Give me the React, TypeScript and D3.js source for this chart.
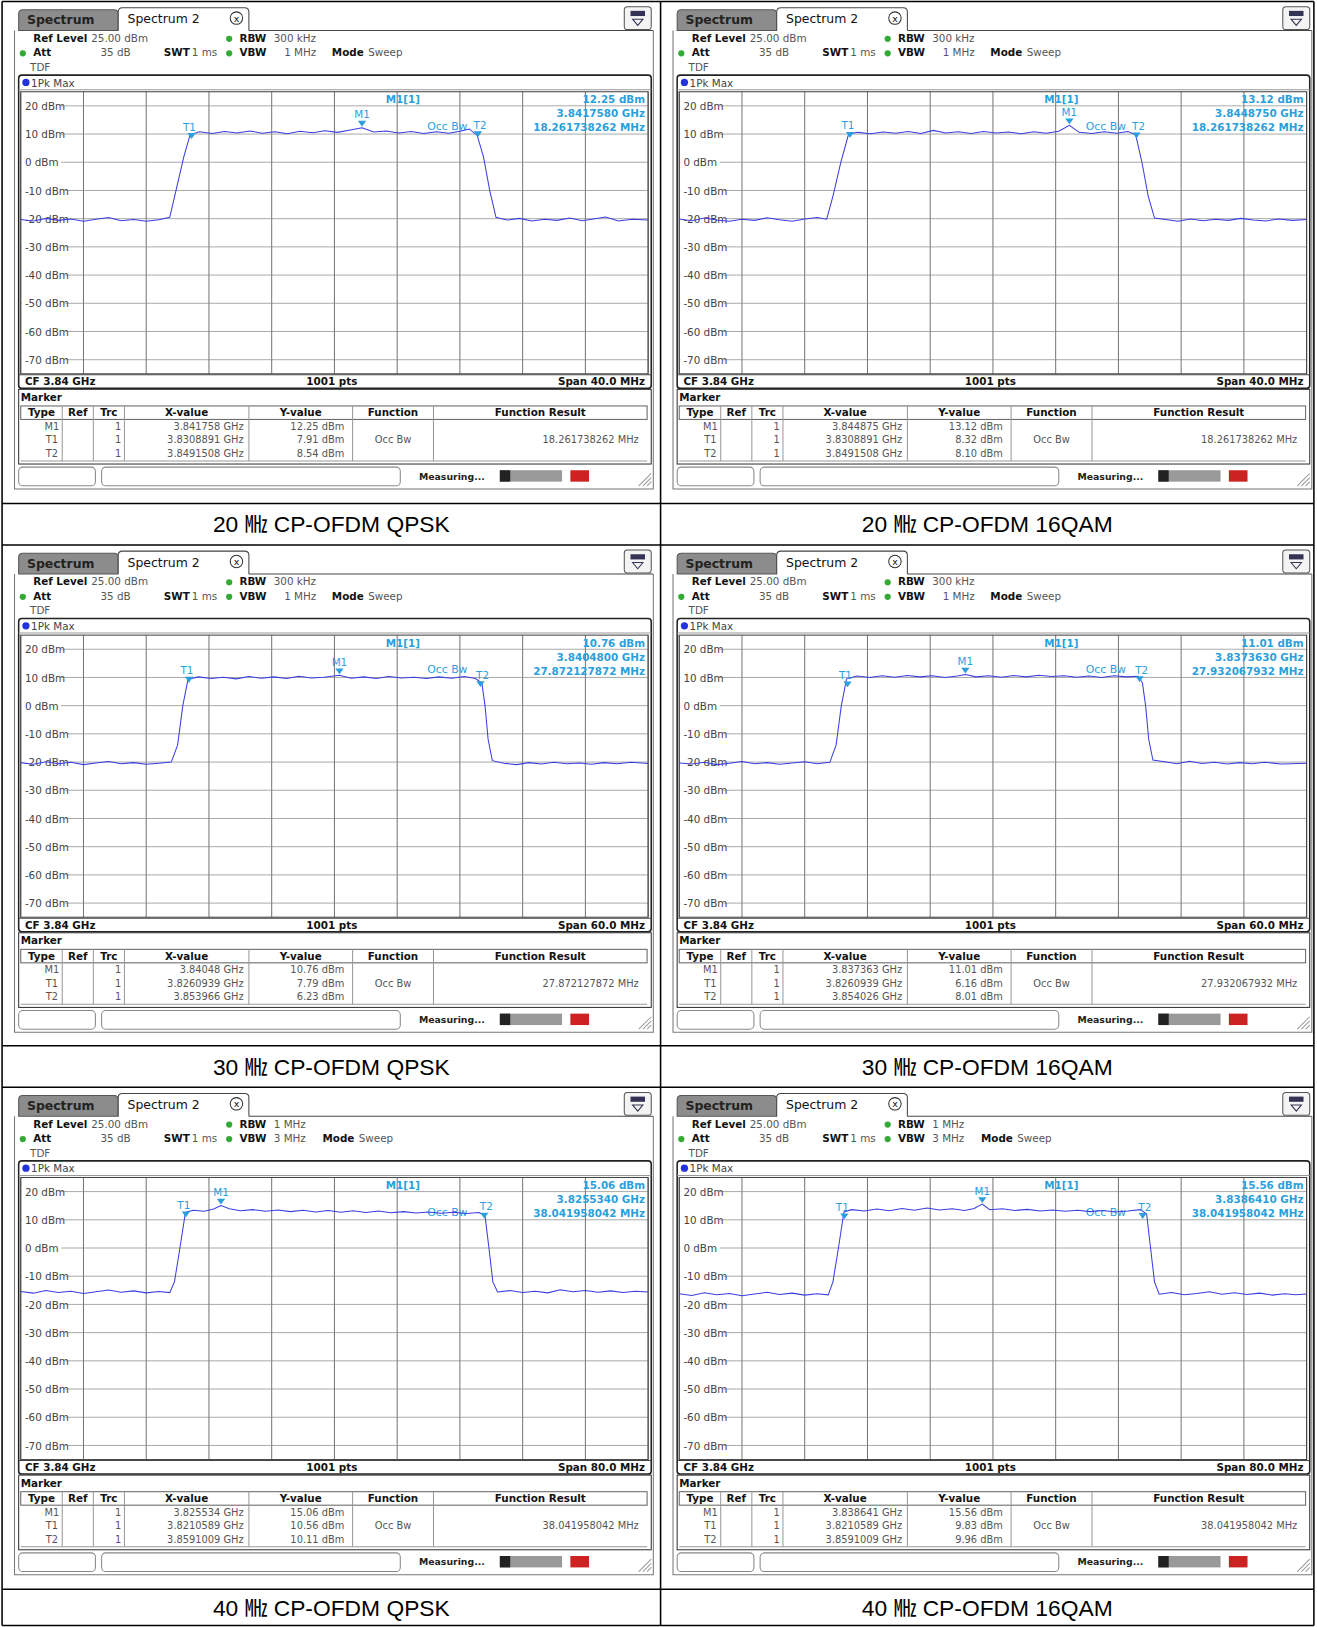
import * as d3 from "d3";

// ---- data ----
const captions = [
  "20 ㎒ CP-OFDM QPSK",
  "20 ㎒ CP-OFDM 16QAM",
  "30 ㎒ CP-OFDM QPSK",
  "30 ㎒ CP-OFDM 16QAM",
  "40 ㎒ CP-OFDM QPSK",
  "40 ㎒ CP-OFDM 16QAM",
];
const spans = [40, 40, 60, 60, 80, 80];
const rbws = ["300 kHz", "300 kHz", "300 kHz", "300 kHz", "1 MHz", "1 MHz"];
const vbws = ["1 MHz", "1 MHz", "1 MHz", "1 MHz", "3 MHz", "3 MHz"];
const yTicks = [20, 10, 0, -10, -20, -30, -40, -50, -60, -70];

// markers: [offset MHz from CF, dBm]
const m1Pos: [number, number][] = [[1.758, 12.25], [4.875, 13.12], [0.48, 10.76], [-2.637, 11.01], [-14.466, 15.06], [-1.359, 15.56]];
const t1Pos: [number, number][] = [[-9.111, 7.91], [-9.111, 8.32], [-13.906, 7.79], [-13.906, 6.16], [-18.941, 10.56], [-18.941, 9.83]];
const t2Pos: [number, number][] = [[9.151, 8.54], [9.151, 8.1], [13.966, 6.23], [14.026, 8.01], [19.101, 10.11], [19.101, 9.96]];
const m1Info = [
  ["12.25 dBm", "3.8417580 GHz", "18.261738262 MHz"],
  ["13.12 dBm", "3.8448750 GHz", "18.261738262 MHz"],
  ["10.76 dBm", "3.8404800 GHz", "27.872127872 MHz"],
  ["11.01 dBm", "3.8373630 GHz", "27.932067932 MHz"],
  ["15.06 dBm", "3.8255340 GHz", "38.041958042 MHz"],
  ["15.56 dBm", "3.8386410 GHz", "38.041958042 MHz"],
];
const tableX = [
  ["3.841758 GHz", "3.8308891 GHz", "3.8491508 GHz"],
  ["3.844875 GHz", "3.8308891 GHz", "3.8491508 GHz"],
  ["3.84048 GHz", "3.8260939 GHz", "3.853966 GHz"],
  ["3.837363 GHz", "3.8260939 GHz", "3.854026 GHz"],
  ["3.825534 GHz", "3.8210589 GHz", "3.8591009 GHz"],
  ["3.838641 GHz", "3.8210589 GHz", "3.8591009 GHz"],
];
const tableY = [
  ["12.25 dBm", "7.91 dBm", "8.54 dBm"],
  ["13.12 dBm", "8.32 dBm", "8.10 dBm"],
  ["10.76 dBm", "7.79 dBm", "6.23 dBm"],
  ["11.01 dBm", "6.16 dBm", "8.01 dBm"],
  ["15.06 dBm", "10.56 dBm", "10.11 dBm"],
  ["15.56 dBm", "9.83 dBm", "9.96 dBm"],
];
const occBw = ["18.261738262 MHz", "18.261738262 MHz", "27.872127872 MHz", "27.932067932 MHz", "38.041958042 MHz", "38.041958042 MHz"];

const trace1: [number, number][] = [[-20,-20.3],[-19.2,-20.8],[-18.4,-19.9],[-17.6,-20.6],[-16.8,-20.1],[-16,-20.9],[-15.2,-20.2],[-14.4,-19.6],[-13.6,-20.7],[-12.8,-20.3],[-12,-20.9],[-11.2,-20.4],[-10.5,-19.5],[-10.1,-10],[-9.6,2],[-9.2,9.8],[-8.6,10.8],[-7.8,10.2],[-7,10.9],[-6.2,10.4],[-5.4,11.1],[-4.6,10.3],[-3.8,10.8],[-3,10.1],[-2.2,11],[-1.4,10.5],[-0.6,11.2],[0.2,10.6],[1,11.4],[1.76,12.25],[2.5,10.7],[3.3,11.1],[4.1,10.4],[4.9,10.9],[5.7,10.2],[6.5,10.8],[7.3,10.3],[8,11],[8.6,11.8],[9.1,9.5],[9.5,2],[9.9,-10],[10.3,-19.5],[11,-20.5],[11.8,-19.9],[12.6,-20.8],[13.4,-20.2],[14.2,-20.6],[15,-19.8],[15.8,-20.7],[16.6,-20],[17.3,-19.4],[18.1,-20.8],[19,-20.2],[20,-20.5]];
const trace2: [number, number][] = [[-20,-20.1],[-19.2,-20.7],[-18.4,-19.8],[-17.6,-20.5],[-16.8,-20.9],[-16,-20.2],[-15.2,-20.6],[-14.4,-19.7],[-13.6,-20.4],[-12.8,-20.9],[-12,-20.1],[-11.2,-19.6],[-10.6,-20.2],[-10.2,-12],[-9.7,0],[-9.2,10],[-8.6,10.6],[-7.8,10.1],[-7,10.7],[-6.2,10.3],[-5.4,10.9],[-4.6,10.2],[-3.8,11.3],[-3,10.4],[-2.2,10.8],[-1.4,10.2],[-0.6,10.9],[0.2,10.4],[1,10.7],[1.8,10.1],[2.6,10.8],[3.4,10.3],[4.2,11],[4.875,13.12],[5.5,10.6],[6.3,10.2],[7.1,10.8],[7.9,10.3],[8.6,10.9],[9.1,9.7],[9.5,0],[9.9,-12],[10.3,-19.8],[11,-20.3],[11.8,-20.9],[12.6,-20.1],[13.4,-20.7],[14.2,-20.2],[15,-20.6],[15.8,-19.9],[16.6,-20.5],[17.4,-20.8],[18.2,-20.1],[19.1,-20.6],[20,-20.3]];
const trace3: [number, number][] = [[-30,-20.2],[-28.8,-20.8],[-27.6,-19.9],[-26.4,-20.6],[-25.2,-20.1],[-24,-20.9],[-22.8,-20.3],[-21.6,-19.8],[-20.4,-20.6],[-19.2,-20.2],[-18,-20.8],[-16.8,-20.4],[-15.6,-20],[-15,-14],[-14.5,0],[-14,9.4],[-13,10.2],[-11.8,9.6],[-10.6,10.1],[-9.4,9.5],[-8.2,10.3],[-7,9.7],[-5.8,10.2],[-4.6,9.6],[-3.4,10.4],[-2.2,9.8],[-1,10.1],[0.48,10.76],[1.6,9.7],[2.8,10.2],[4,9.6],[5.2,10.3],[6.4,9.8],[7.6,10.1],[8.8,9.6],[10,10.2],[11.2,9.7],[12.4,10.3],[13.5,9.6],[14.1,8],[14.4,0],[14.7,-12],[15.1,-19.5],[16.2,-20.4],[17.4,-20.9],[18.6,-20.2],[19.8,-20.7],[21,-20.1],[22.2,-20.6],[23.4,-20.3],[24.6,-20.8],[25.8,-20.2],[27,-20.6],[28.4,-20.1],[30,-20.5]];
const trace4: [number, number][] = [[-30,-20.3],[-28.8,-20.7],[-27.6,-20.1],[-26.4,-20.9],[-25.2,-20.4],[-24,-19.8],[-22.8,-20.6],[-21.6,-20.2],[-20.4,-20.8],[-19.2,-20.3],[-18,-19.9],[-16.8,-20.6],[-15.6,-20.1],[-15,-14],[-14.5,0],[-14,9.5],[-13,10.5],[-11.8,10],[-10.6,10.6],[-9.4,10.1],[-8.2,10.7],[-7,10.2],[-5.8,10.6],[-4.6,10],[-3.4,10.5],[-2.637,11.01],[-1.6,10.2],[-0.4,10.6],[0.8,10.1],[2,10.7],[3.2,10.2],[4.4,10.8],[5.6,10.3],[6.8,10.6],[8,10.1],[9.2,10.5],[10.4,10],[11.6,10.6],[12.8,10.2],[13.9,10.4],[14.3,8],[14.6,0],[14.9,-12],[15.3,-19.3],[16.4,-19.9],[17.6,-20.6],[18.8,-19.7],[20,-20.5],[21.2,-20.1],[22.4,-20.7],[23.6,-20.2],[24.8,-20.6],[26,-20.1],[27.6,-20.7],[30,-20.4]];
const trace5: [number, number][] = [[-40,-15.4],[-38.4,-16],[-36.8,-15.1],[-35.2,-15.8],[-33.6,-15.3],[-32,-16.1],[-30.4,-15.5],[-28.8,-14.9],[-27.2,-15.7],[-25.6,-15.2],[-24,-15.9],[-22.4,-15.4],[-21,-15.8],[-20.4,-12],[-19.7,0],[-19,12.6],[-18,13.4],[-16.6,13],[-15.4,13.8],[-14.47,15.06],[-13.4,13.9],[-12,13.2],[-10.4,13.6],[-8.8,13],[-7.2,13.5],[-5.6,12.9],[-4,13.4],[-2.4,12.8],[-0.8,13.3],[0.8,12.7],[2.4,13.2],[4,12.6],[5.6,13.1],[7.2,12.5],[8.8,12.9],[10.4,12.4],[12,12.8],[13.6,12.3],[15.2,12.7],[16.8,12.2],[18.4,12.6],[19.2,11.5],[19.7,0],[20.2,-12],[20.8,-15.6],[22.4,-15.1],[24,-15.8],[25.6,-15.3],[27.2,-15.9],[28.8,-14.8],[30.4,-15.5],[32,-15.1],[33.6,-15.7],[35.2,-15.2],[36.8,-15.8],[38.4,-15.3],[40,-15.6]];
const trace6: [number, number][] = [[-40,-16.2],[-38.4,-16.8],[-36.8,-15.9],[-35.2,-16.6],[-33.6,-16.1],[-32,-16.9],[-30.4,-16.3],[-28.8,-15.7],[-27.2,-16.5],[-25.6,-16],[-24,-16.7],[-22.4,-16.2],[-21,-16.6],[-20.4,-12],[-19.7,0],[-19,12.8],[-18,13.6],[-16.4,13.1],[-14.8,13.8],[-13.2,13.2],[-11.6,14],[-10,13.4],[-8.4,14.2],[-6.8,13.5],[-5.2,13.9],[-3.6,13.3],[-2.4,14],[-1.36,15.56],[-0.4,13.6],[1.2,13.9],[2.8,13.3],[4.4,13.7],[6,13.1],[7.6,13.5],[9.2,13],[10.8,13.4],[12.4,12.9],[14,13.3],[15.6,12.8],[17.2,13.1],[18.8,13.6],[19.6,12],[20.1,0],[20.6,-12],[21.2,-16.4],[22.8,-15.8],[24.4,-16.6],[26,-16.1],[27.6,-15.5],[29.2,-16.4],[30.8,-15.9],[32.4,-16.5],[34,-16],[35.6,-16.7],[37.2,-16.2],[38.6,-16.6],[40,-16.3]];
const traces = [trace1, trace2, trace3, trace4, trace5, trace6];

// ---- layout (design units 1270 x 1568, scaled to window) ----
const W = 1270, H = 1568;
const colX = [2, 637, 1267];
const rowY = [1, 485, 525, 1008, 1048, 1532, 1567];
const BLUE = "#2b9fdc";
const TRACE = "#3a3ee0";
const FONT = "DejaVu Sans, Verdana, sans-serif";

function Panel({ i }: { i: number }) {
  const span = spans[i];
  const x = d3.scaleLinear().domain([-span / 2, span / 2]).range([18, 623]);
  const y = d3.scaleLinear().domain([-75, 25]).range([359, 87]);
  const line = d3.line<[number, number]>().x((d) => x(d[0])).y((d) => y(Math.max(-75, d[1])));
  const vLines = d3.range(0, 11).map((k) => -span / 2 + (k * span) / 10);
  const modeX = i >= 4 ? 309 : 318;
  const tri = (px: number, py: number, s = 4) => `M${px - s},${py - s * 1.4}L${px + s},${py - s * 1.4}L${px},${py}Z`;
  const mk = (p: [number, number], label: string, dx = 0) => (
    <g key={label}>
      <path d={tri(x(p[0]), y(p[1]) - 1)} fill={BLUE} />
      <text x={x(p[0]) + dx} y={y(p[1]) - 9} fontSize={10} fill={BLUE} textAnchor="middle">{label}</text>
    </g>
  );
  const cols = [18, 58, 88, 118, 238, 338, 416, 622];
  const rows = [["M1", "1", tableX[i][0], tableY[i][0], "", ""], ["T1", "1", tableX[i][1], tableY[i][1], "Occ Bw", occBw[i]], ["T2", "1", tableX[i][2], tableY[i][2], "", ""]];
  return (
    <g fontFamily={FONT}>
      {/* tabs */}
      <path d="M16,28 L16,12 Q16,8 20,8 L108,8 Q112,8 112,12 L112,28Z" fill="#8c8c8c" stroke="#555" />
      <text x={24} y={22} fontSize={12} fontWeight="bold" fill="#222">Spectrum</text>
      <path d="M112,28 L112,10 Q112,6 116,6 L234,6 Q238,6 238,10 L238,28" fill="#fff" stroke="#444" />
      <text x={121} y={21} fontSize={12} fill="#111">Spectrum 2</text>
      <circle cx={226} cy={16} r={6} fill="#fff" stroke="#333" />
      <text x={226} y={19.5} fontSize={9} textAnchor="middle" fill="#111">x</text>
      <line x1={238} y1={28} x2={628} y2={28} stroke="#444" />
      <rect x={600} y={5} width={26} height={22} rx={3} fill="#f4f4f4" stroke="#555" />
      <rect x={606} y={9} width={14} height={5} fill="#335" />
      <path d="M608,17 L618,17 L613,23Z" fill="none" stroke="#335" />
      <path d="M12,28 L12,470 L628,470 L628,28" fill="none" stroke="#777" />
      {/* header */}
      <g fontSize={10} fill="#555">
        <text x={30} y={39} fontWeight="bold" fill="#111">Ref Level</text>
        <text x={86} y={39}>25.00 dBm</text>
        <circle cx={219} cy={36} r={3} fill="#3a3" />
        <text x={229} y={39} fontWeight="bold" fill="#111">RBW</text>
        <text x={262} y={39}>{rbws[i]}</text>
        <circle cx={20} cy={50} r={3} fill="#3a3" />
        <text x={30} y={53} fontWeight="bold" fill="#111">Att</text>
        <text x={124} y={53} textAnchor="end">35 dB</text>
        <text x={156} y={53} fontWeight="bold" fill="#111">SWT</text>
        <text x={183} y={53}>1 ms</text>
        <circle cx={219} cy={50} r={3} fill="#3a3" />
        <text x={229} y={53} fontWeight="bold" fill="#111">VBW</text>
        <text x={i >= 4 ? 262 : 272} y={53}>{vbws[i]}</text>
        <text x={modeX} y={53} fontWeight="bold" fill="#111">Mode</text>
        <text x={modeX + 35} y={53}>Sweep</text>
        <text x={27} y={67}>TDF</text>
      </g>
      {/* plot frame */}
      <rect x={16} y={71} width={610} height={302} rx={3} fill="#fff" stroke="#222" strokeWidth={1.5} />
      <line x1={16} y1={85} x2={626} y2={85} stroke="#999" />
      <circle cx={23} cy={78} r={3.5} fill="#2233dd" />
      <text x={28} y={82} fontSize={10} fill="#444">1Pk Max</text>
      {/* grid */}
      {vLines.map((v, k) => (
        <line key={k} x1={x(v)} x2={x(v)} y1={87} y2={359} stroke="#555" strokeWidth={0.8} />
      ))}
      {yTicks.map((t) => (
        <g key={t}>
          <line x1={18} x2={623} y1={y(t)} y2={y(t)} stroke="#888" strokeWidth={0.7} />
          <rect x={19} y={y(t) - 6} width={t < 0 ? 42 : 38} height={11} fill="#fff" />
          <text x={22} y={y(t) + 4} fontSize={10} fill="#444">{t} dBm</text>
        </g>
      ))}
      <rect x={18} y={87} width={605} height={272} fill="none" stroke="#444" />
      {/* marker info */}
      <text x={370} y={98} fontSize={10} fontWeight="bold" fill={BLUE}>M1[1]</text>
      {m1Info[i].map((s, k) => (
        <text key={k} x={620} y={98 + k * 13.5} fontSize={10} fontWeight="bold" fill={BLUE} textAnchor="end">{s}</text>
      ))}
      <text x={x(span * 0.18)} y={y(10) - 4} fontSize={10.5} fill={BLUE} textAnchor="middle">Occ Bw</text>
      {/* trace */}
      <path d={line(traces[i]) ?? ""} fill="none" stroke={TRACE} strokeWidth={1} />
      {mk(m1Pos[i], "M1")}
      {mk(t1Pos[i], "T1", -2)}
      {mk(t2Pos[i], "T2", 2)}
      {/* footer */}
      <line x1={16} y1={360} x2={626} y2={360} stroke="#444" />
      <g fontSize={10} fontWeight="bold" fill="#111">
        <text x={22} y={370}>CF 3.84 GHz</text>
        <text x={318} y={370} textAnchor="middle">1001 pts</text>
        <text x={620} y={370} textAnchor="end">Span {span.toFixed(1)} MHz</text>
      </g>
      {/* marker table */}
      <rect x={16} y={374} width={610} height={72} fill="#fff" stroke="#333" />
      <text x={18} y={385} fontSize={10} fontWeight="bold" fill="#111">Marker</text>
      <rect x={18} y={390} width={604} height={13} fill="#fff" stroke="#666" />
      {cols.slice(1, -1).map((c) => (
        <line key={c} x1={c} x2={c} y1={390} y2={443} stroke="#999" />
      ))}
      <line x1={18} x2={622} y1={443} y2={443} stroke="#999" />
      {["Type", "Ref", "Trc", "X-value", "Y-value", "Function", "Function Result"].map((h, k) => (
        <text key={h} x={(cols[k] + cols[k + 1]) / 2} y={400} fontSize={10} fontWeight="bold" fill="#111" textAnchor="middle">{h}</text>
      ))}
      {rows.map((r, k) => (
        <g key={k} fontSize={9.5} fill="#555">
          <text x={48} y={413 + k * 13} textAnchor="middle">{r[0]}</text>
          <text x={115} y={413 + k * 13} textAnchor="end">{r[1]}</text>
          <text x={233} y={413 + k * 13} textAnchor="end">{r[2]}</text>
          <text x={330} y={413 + k * 13} textAnchor="end">{r[3]}</text>
          <text x={377} y={413 + k * 13} textAnchor="middle">{r[4]}</text>
          <text x={614} y={413 + k * 13} textAnchor="end">{r[5]}</text>
        </g>
      ))}
      {/* status bar */}
      <rect x={16} y={449} width={74} height={18} rx={4} fill="#fff" stroke="#888" />
      <rect x={96} y={449} width={288} height={18} rx={4} fill="#fff" stroke="#888" />
      <text x={402} y={461} fontSize={9} fontWeight="bold" fill="#222">Measuring...</text>
      <rect x={480} y={452} width={60} height={11} fill="#999" />
      <rect x={480} y={452} width={10} height={11} fill="#222" />
      <rect x={548} y={452} width={18} height={11} fill="#c22" />
      <path d="M614,467 L626,455 M618,467 L626,459 M622,467 L626,463" stroke="#999" />
    </g>
  );
}

export default function App() {
  return (
    <svg width={1317} height={1627} viewBox={`0 0 ${W} ${H}`} style={{ display: "block", position: "absolute", left: 0, top: 0, background: "#fff" }}>
      {captions.map((c, i) => {
        const col = i % 2, row = Math.floor(i / 2);
        const x0 = colX[col], y0 = rowY[row * 2];
        const cy = (rowY[row * 2 + 1] + rowY[row * 2 + 2]) / 2;
        return (
          <g key={i}>
            <g transform={`translate(${x0},${y0})`}><Panel i={i} /></g>
            <text x={(colX[col] + colX[col + 1]) / 2} y={cy + 8} fontSize={22} textAnchor="middle"
              fontFamily="'Liberation Sans', Arial, 'Noto Sans CJK KR', sans-serif" fill="#000">{c}</text>
          </g>
        );
      })}
      {/* table borders */}
      {rowY.map((yy, k) => (
        <line key={"h" + k} x1={colX[0]} x2={colX[2]} y1={yy} y2={yy} stroke="#000" strokeWidth={1.5} />
      ))}
      {colX.map((xx, k) => (
        <line key={"v" + k} x1={xx} x2={xx} y1={rowY[0]} y2={rowY[6]} stroke="#000" strokeWidth={1.5} />
      ))}
    </svg>
  );
}
